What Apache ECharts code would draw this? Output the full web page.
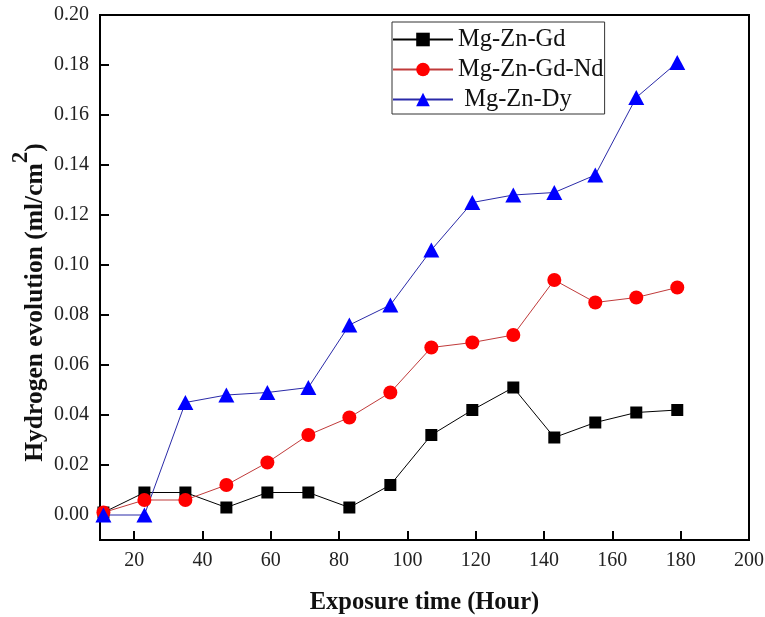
<!DOCTYPE html>
<html>
<head>
<meta charset="utf-8">
<script src="https://cdn.jsdelivr.net/npm/echarts@6/dist/echarts.min.js"></script>
<style>
  html, body { margin: 0; padding: 0; background: #fff; }
  #chart { width: 765px; height: 617px; }
</style>
</head>
<body>
<div id="chart"></div>
<script>
// Exposure times (hours)
const hours = [11, 23, 35, 47, 59, 71, 83, 95, 107, 119, 131, 143, 155, 167, 179];

// Hydrogen evolution (ml/cm^2) per alloy
const mgZnGd   = [0.001, 0.009, 0.009, 0.003, 0.009, 0.009, 0.003, 0.012, 0.032, 0.042, 0.051, 0.031, 0.037, 0.041, 0.042];
const mgZnGdNd = [0.001, 0.006, 0.006, 0.012, 0.021, 0.032, 0.039, 0.049, 0.067, 0.069, 0.072, 0.094, 0.085, 0.087, 0.091];
const mgZnDy   = [0.000, 0.000, 0.045, 0.048, 0.049, 0.051, 0.076, 0.084, 0.106, 0.125, 0.128, 0.129, 0.136, 0.167, 0.181];

// Tick positions
const xTicks = [20, 40, 60, 80, 100, 120, 140, 160, 180, 200];
const yTicks = [0, 0.02, 0.04, 0.06, 0.08, 0.10, 0.12, 0.14, 0.16, 0.18, 0.20];

const pairs = ys => hours.map((h, i) => [h, ys[i]]);
const serif = 'Liberation Serif';

const chart = echarts.init(document.getElementById('chart'), null, { renderer: 'canvas' });

chart.setOption({
  backgroundColor: '#fff',
  animation: false,
  grid: {
    left: 100, right: 16, top: 15, bottom: 77,
    outerBoundsMode: 'none', containLabel: false,
    show: true, borderColor: '#000', borderWidth: 2, backgroundColor: 'transparent'
  },
  legend: {
    orient: 'vertical',
    left: 392, top: 22,
    padding: [5, 1, 2, 0],
    itemWidth: 60, itemHeight: 17, itemGap: 5,
    borderColor: '#333', borderWidth: 1,
    textStyle: { fontFamily: serif, fontSize: 24.5, color: '#111' },
    formatter: name => name === 'Mg-Zn-Dy' ? ' ' + name : name,
    data: ['Mg-Zn-Gd', 'Mg-Zn-Gd-Nd', 'Mg-Zn-Dy']
  },
  xAxis: {
    type: 'value', min: 10, max: 200,
    name: 'Exposure time (Hour)',
    nameLocation: 'middle', nameGap: 50,
    nameTextStyle: { fontFamily: serif, fontSize: 24.5, fontWeight: 'bold', color: '#111' },
    axisLine: { onZero: false, lineStyle: { color: '#000', width: 2 } },
    axisTick: { inside: true, length: 9, customValues: xTicks, lineStyle: { color: '#000', width: 2 } },
    axisLabel: { customValues: xTicks, margin: 11, fontFamily: serif, fontSize: 20, color: '#222' },
    splitLine: { show: false }
  },
  yAxis: {
    type: 'value', min: -0.01, max: 0.20,
    name: '{a|Hydrogen evolution (ml/cm}{b|2}{a|)}',
    nameLocation: 'middle', nameGap: 52, nameMoveOverlap: false,
    nameTextStyle: {
      padding: [0, 50, 0, 0],
      rich: {
        a: { fontFamily: serif, fontSize: 25.5, fontWeight: 'bold', color: '#111', lineHeight: 38, verticalAlign: 'bottom' },
        b: { fontFamily: serif, fontSize: 23, fontWeight: 'bold', color: '#111', lineHeight: 38, verticalAlign: 'top' }
      }
    },
    axisLine: { show: true, onZero: false, lineStyle: { color: '#000', width: 2 } },
    axisTick: { show: true, inside: true, length: 9, customValues: yTicks, lineStyle: { color: '#000', width: 2 } },
    axisLabel: {
      customValues: yTicks, margin: 11, fontFamily: serif, fontSize: 20, color: '#222',
      formatter: v => v.toFixed(2)
    },
    splitLine: { show: false }
  },
  series: [
    {
      name: 'Mg-Zn-Gd', type: 'line', data: pairs(mgZnGd),
      symbol: 'rect', symbolSize: 12,
      itemStyle: { color: '#000' },
      lineStyle: { color: '#000', width: 1 }
    },
    {
      name: 'Mg-Zn-Gd-Nd', type: 'line', data: pairs(mgZnGdNd),
      symbol: 'circle', symbolSize: 14,
      itemStyle: { color: '#ff0000' },
      lineStyle: { color: '#c03a3a', width: 1 }
    },
    {
      name: 'Mg-Zn-Dy', type: 'line', data: pairs(mgZnDy),
      symbol: 'triangle', symbolSize: [16, 15],
      itemStyle: { color: '#0000ff' },
      lineStyle: { color: '#2a2aa8', width: 1 }
    }
  ]
});
</script>
</body>
</html>
